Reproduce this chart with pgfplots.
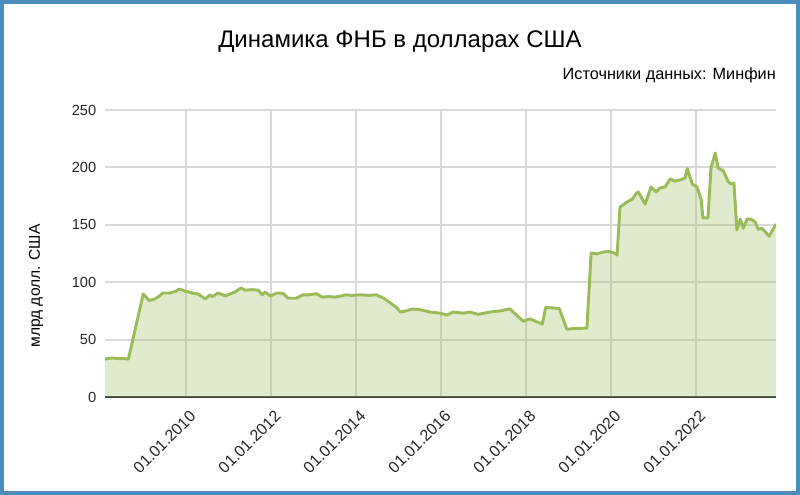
\documentclass[border=0pt]{standalone}
\usepackage{fontspec}
\setmainfont{Liberation Sans}
\usepackage{pgfplots}
\usepackage{pgfplotstable}
\pgfplotsset{compat=1.18}
\definecolor{nwfgreen}{HTML}{9BBB59}
\definecolor{framec}{HTML}{4A8CBC}
\definecolor{gridc}{HTML}{D9D9D9}

% year (decimal), bn USD
\pgfplotstableread{
x v
2008.09 33
2008.25 34
2008.40 33.5
2008.55 33.5
2008.64 33
2008.99 89.7
2009.13 84
2009.27 85.5
2009.39 88.5
2009.45 90.6
2009.62 90.6
2009.75 92
2009.84 94
2010.00 92
2010.15 90.5
2010.28 89.7
2010.45 85.4
2010.56 89
2010.62 87.5
2010.75 90.6
2010.92 88
2011.05 90
2011.15 91.5
2011.29 95
2011.39 93
2011.55 93.5
2011.70 93
2011.79 89
2011.86 91.5
2011.98 88
2012.14 90.6
2012.28 90.3
2012.40 86
2012.59 86
2012.75 89
2012.90 89
2013.06 90
2013.20 87
2013.35 87.5
2013.50 87
2013.65 88
2013.76 89
2013.90 88.5
2014.10 89
2014.30 88.5
2014.47 89
2014.65 86
2014.80 82
2014.95 78
2015.04 74
2015.18 75
2015.32 76.7
2015.50 76
2015.74 74
2015.98 73
2016.14 71.4
2016.28 74
2016.52 73
2016.68 74
2016.87 72
2017.15 74
2017.39 75
2017.62 76.7
2017.93 66
2018.09 68
2018.26 65.3
2018.38 63.6
2018.46 78
2018.66 77.5
2018.78 77
2018.96 59
2019.08 59.5
2019.43 60
2019.53 125.4
2019.67 124.6
2019.79 126
2019.93 127
2020.07 125.4
2020.14 123.7
2020.21 165.5
2020.38 170
2020.50 172.5
2020.60 177.7
2020.64 178.6
2020.80 168
2020.94 183
2021.06 178.6
2021.15 182
2021.27 183
2021.39 190
2021.50 188
2021.62 189
2021.74 190.8
2021.79 199
2021.91 185.5
2022.02 183
2022.07 177.7
2022.12 171.6
2022.16 156
2022.28 156
2022.35 199.5
2022.45 212.5
2022.52 199.5
2022.64 197
2022.75 188
2022.82 185.5
2022.89 186.4
2022.96 145.5
2023.04 155
2023.11 147
2023.20 155
2023.29 155
2023.39 152.4
2023.46 146
2023.55 147
2023.72 140
2023.88 150.7
}\nwf

\begin{document}
\begin{tikzpicture}[x=1pt,y=1pt]
\useasboundingbox (0,0) rectangle (600,371.25);
\fill[white] (0,0) rectangle (600,371.25);
\begin{axis}[
  at={(78.75pt,73.5pt)}, anchor=south west,
  scale only axis, width=503.25pt, height=215.25pt,
  xmin=2008.09, xmax=2023.88, ymin=0, ymax=250,
  xtick={2010,2012,2014,2016,2018,2020,2022},
  xticklabels={01.01.2010,01.01.2012,01.01.2014,01.01.2016,01.01.2018,01.01.2020,01.01.2022},
  ytick={0,50,100,150,200,250},
  grid=major, major grid style={draw=gridc, line width=1.5pt},
  axis x line=bottom, axis y line=left, axis line style={-},
  x axis line style={draw=black!75, line width=1.5pt},
  y axis line style={draw=none},
  major tick length=0pt,
  /pgf/number format/assume math mode=true,
  ticklabel style={font=\fontsize{11}{13}\selectfont, text=black!85},
  xticklabel style={font=\fontsize{12}{14}\selectfont, xshift=1.9pt, yshift=-4.5pt, rotate=45, anchor=north east},
  yticklabel style={xshift=-3pt},
]
\addplot[draw=none, fill=nwfgreen, fill opacity=0.3] table[x=x, y=v] {\nwf} \closedcycle;
\addplot[draw=nwfgreen, line width=2.2pt, line join=round] table[x=x, y=v] {\nwf};
\end{axis}
\node[font=\fontsize{18}{22}\selectfont] at (300,339.75) {Динамика ФНБ в долларах США};
\node[font=\fontsize{12.2}{14}\selectfont, anchor=east, inner sep=0pt] at (582,315) {Источники данных: Минфин};
\node[font=\fontsize{11.7}{13}\selectfont, rotate=90] at (27,156.75) {млрд долл. США};
\draw[framec, line width=3pt] (1.5,1.5) rectangle (598.5,369.75);
\end{tikzpicture}
\end{document}
